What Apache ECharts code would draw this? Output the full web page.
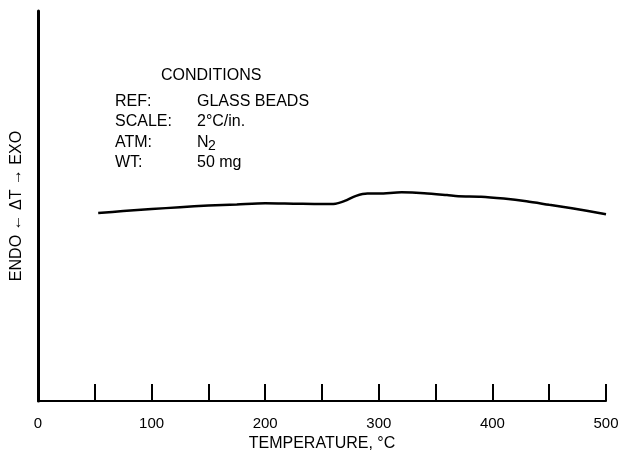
<!DOCTYPE html>
<html>
<head>
<meta charset="utf-8">
<script src="https://cdn.jsdelivr.net/npm/echarts@6/dist/echarts.min.js"></script>
<style>
  html, body { margin: 0; padding: 0; background: #fff; }
  #chart { width: 622px; height: 455px; }
</style>
</head>
<body>
<div id="chart"></div>
<script>
// DTA trace, temperature (°C) vs relative ΔT (arbitrary units)
const temps = [53, 75, 100, 125, 150, 175, 200, 225, 250, 262, 270, 280, 290, 300, 320, 340, 360, 370, 390, 410, 430, 450, 470, 500];
const deltaT = [48.2, 48.7, 49.2, 49.7, 50.1, 50.4, 50.7, 50.6, 50.5, 50.6, 51.3, 52.6, 53.2, 53.2, 53.5, 53.3, 52.8, 52.5, 52.4, 51.9, 51.2, 50.3, 49.4, 47.9];
const xTicks = [0, 100, 200, 300, 400, 500];

const conditionLabels = ['REF:', 'SCALE:', 'ATM:', 'WT:'];
const conditionValues = ['GLASS BEADS', '2°C/in.', 'N', '50 mg'];

const fontFam = '"Liberation Sans", Arial, sans-serif';
const chart = echarts.init(document.getElementById('chart'));

const rowTops = [94, 114, 134.5, 155];
const graphics = [{
  type: 'text', left: 161, top: 68,
  style: { text: 'CONDITIONS', font: '16px ' + fontFam, fill: '#000' }
}];
conditionLabels.forEach(function (lab, i) {
  graphics.push({ type: 'text', left: 115, top: rowTops[i],
    style: { text: lab, font: '16px ' + fontFam, fill: '#000' } });
  graphics.push({ type: 'text', left: 197, top: rowTops[i],
    style: { text: conditionValues[i], font: '16px ' + fontFam, fill: '#000' } });
});
// subscript for N2
graphics.push({ type: 'text', left: 208, top: rowTops[2] + 5,
  style: { text: '2', font: '14px ' + fontFam, fill: '#000' } });

const option = {
  backgroundColor: '#fff',
  animation: false,
  grid: { left: 38, right: 16, top: 11, bottom: 54, outerBoundsMode: 'none', containLabel: false },
  xAxis: {
    type: 'value',
    min: 0, max: 500, interval: 50,
    name: 'TEMPERATURE, °C',
    nameLocation: 'middle',
    nameGap: 35,
    nameTextStyle: { fontSize: 16, color: '#000', fontFamily: fontFam },
    axisLine: { lineStyle: { color: '#000', width: 2 } },
    axisTick: { inside: true, length: 17, lineStyle: { color: '#000', width: 2 } },
    axisLabel: {
      fontSize: 15, color: '#000', fontFamily: fontFam, margin: 15,
      formatter: function (v) { return xTicks.indexOf(v) >= 0 ? String(v) : ''; }
    },
    splitLine: { show: false }
  },
  yAxis: {
    type: 'value',
    min: 0, max: 100,
    name: 'ENDO ← ΔT → EXO',
    nameLocation: 'middle',
    nameGap: 13,
    nameTextStyle: { fontSize: 16, color: '#000', fontFamily: fontFam },
    axisLine: { show: true, lineStyle: { color: '#000', width: 3 } },
    axisTick: { show: false },
    axisLabel: { show: false },
    splitLine: { show: false }
  },
  series: [{
    type: 'line',
    data: temps.map(function (t, i) { return [t, deltaT[i]]; }),
    smooth: 0.3,
    showSymbol: false,
    lineStyle: { color: '#000', width: 2.5 }
  }],
  graphic: graphics
};
chart.setOption(option);
</script>
</body>
</html>
